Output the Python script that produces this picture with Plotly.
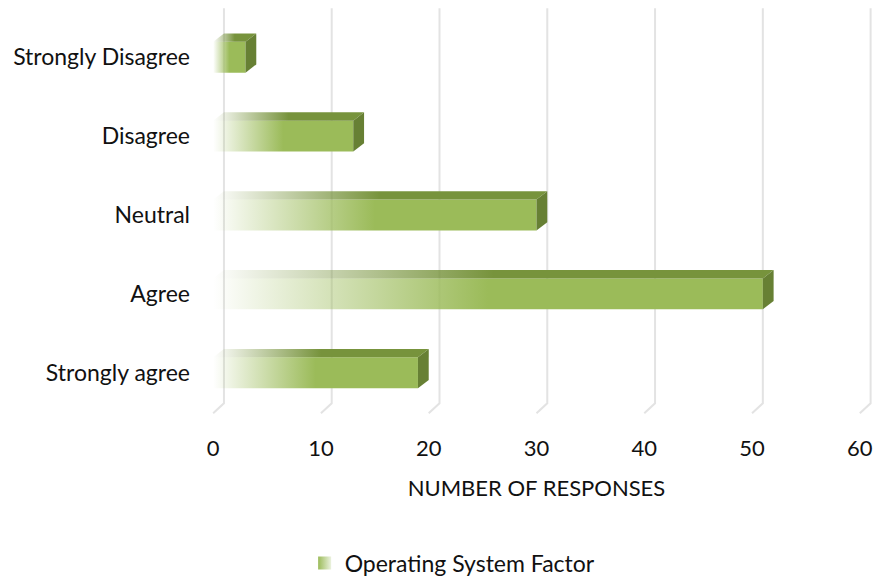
import plotly.graph_objects as go

# Survey responses for the operating system factor
categories = ["Strongly agree", "Agree", "Neutral", "Disagree", "Strongly Disagree"]
responses = [19, 51, 30, 13, 3]
x_ticks = [0, 10, 20, 30, 40, 50, 60]
series_name = "Operating System Factor"

# Styling / pseudo-3D geometry (data units)
HALF = 0.196      # half height of the bar front face
DX = 1.0          # depth offset along x
DY = 0.105        # depth offset along y
GRID_TOP = 4.62
FLOOR_BACK = -0.387
FLOOR_FRONT = -0.515

GREEN = "rgb(155,187,89)"
SIDE_GREEN = "rgb(103,128,52)"
FONT = "Lato"


def fade(rgb_tuple):
    r, g, b = rgb_tuple
    return [
        [0.0, f"rgba({r},{g},{b},0.0)"],
        [0.06, f"rgba({r},{g},{b},0.12)"],
        [0.5, f"rgba({r},{g},{b},1.0)"],
        [1.0, f"rgba({r},{g},{b},1.0)"],
    ]


fig = go.Figure()

# Back-wall gridlines with their floor segment
for t in x_ticks:
    fig.add_trace(go.Scatter(
        x=[t + DX, t + DX, t],
        y=[GRID_TOP, FLOOR_BACK, FLOOR_FRONT],
        mode="lines",
        line=dict(color="#e3e3e3", width=2),
        hoverinfo="skip",
        showlegend=False,
    ))

# Bars: front face, top face and right side
for i, (cat, v) in enumerate(zip(categories, responses)):
    y0, y1 = i - HALF, i + HALF
    fig.add_trace(go.Scatter(
        x=[0, v, v, 0, 0],
        y=[y0, y0, y1, y1, y0],
        mode="none",
        fill="toself",
        fillgradient=dict(type="horizontal", colorscale=fade((155, 187, 89)),
                          start=0, stop=v),
        name=cat,
        hovertemplate=f"{cat}: {v}<extra></extra>",
        showlegend=False,
    ))
    fig.add_trace(go.Scatter(
        x=[0, v, v + DX, DX, 0],
        y=[y1, y1, y1 + DY, y1 + DY, y1],
        mode="none",
        fill="toself",
        fillgradient=dict(type="horizontal", colorscale=fade((119, 147, 60)),
                          start=0, stop=v + DX),
        hoverinfo="skip",
        showlegend=False,
    ))
    fig.add_trace(go.Scatter(
        x=[v, v + DX, v + DX, v, v],
        y=[y0, y0 + DY, y1 + DY, y1, y0],
        mode="none",
        fill="toself",
        fillcolor=SIDE_GREEN,
        hoverinfo="skip",
        showlegend=False,
    ))

# Legend entry
fig.add_trace(go.Scatter(
    x=[None], y=[None],
    mode="markers",
    name=series_name,
    marker=dict(symbol="square", size=13, color=GREEN,
                gradient=dict(type="horizontal", color="rgb(235,242,222)")),
    showlegend=True,
))

fig.update_layout(
    width=883,
    height=581,
    margin=dict(l=197, r=7, t=2, b=157),
    plot_bgcolor="white",
    paper_bgcolor="white",
    font=dict(family=FONT, size=22, color="#111111"),
    showlegend=True,
    legend=dict(
        orientation="h",
        xref="container", yref="container",
        x=0.345, xanchor="left",
        y=1 - 563 / 581, yanchor="middle",
        font=dict(size=23),
    ),
    xaxis=dict(
        range=[-1.5, 61.5],
        tickvals=x_ticks,
        showgrid=False,
        zeroline=False,
        showline=False,
        ticks="",
        ticklabelstandoff=9,
        tickfont=dict(size=22),
        title=dict(text="NUMBER OF RESPONSES", standoff=20,
                   font=dict(size=22)),
    ),
    yaxis=dict(
        range=[-0.65, 4.7],
        tickvals=list(range(len(categories))),
        ticktext=categories,
        showgrid=False,
        zeroline=False,
        showline=False,
        ticks="",
        ticklabelstandoff=6,
        tickfont=dict(size=23),
    ),
)

fig.write_html("out.html")
